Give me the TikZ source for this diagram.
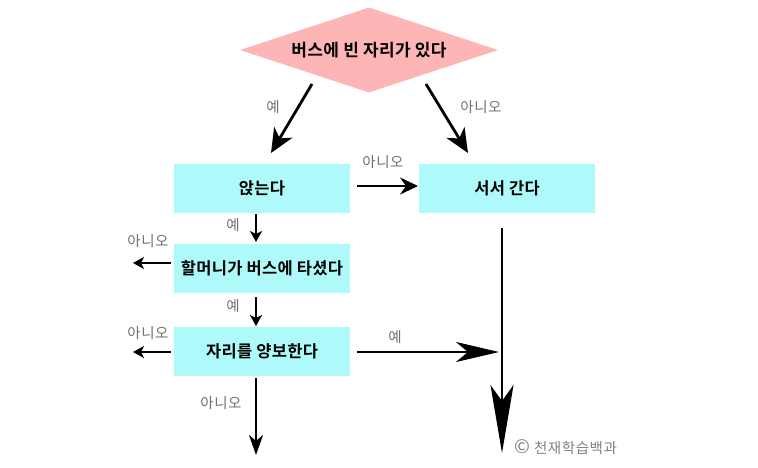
\documentclass[tikz,border=0pt]{standalone}
\usepackage{fontspec}
\setmainfont{Noto Sans CJK KR}
\newfontfamily\krb{Noto Sans CJK KR Bold}[LetterSpace=2]
\newfontfamily\krl{Noto Sans CJK KR}[LetterSpace=4]
\usetikzlibrary{arrows.meta,shapes.geometric}
\definecolor{boxc}{HTML}{AEFAFA}
\definecolor{diac}{HTML}{FDB5B5}
\definecolor{labc}{HTML}{707070}
\definecolor{copyc}{HTML}{808080}
\tikzset{
  stepbox/.style={fill=boxc, minimum width=176pt, minimum height=49pt, inner sep=0pt, font=\krb\fontsize{16.5}{18}\selectfont},
  decision/.style={diamond, fill=diac, minimum width=258pt, minimum height=85pt, inner sep=0pt, aspect=3.03, font=\krb\fontsize{17}{18}\selectfont},
  lab/.style={text=labc, font=\krl\fontsize{14.5}{16}\selectfont, inner sep=0pt},
  bigarr/.style={line width=2.8pt, -{Stealth[length=24pt,width=21pt,inset=7pt]}},
  midarr/.style={line width=2.8pt, -{Stealth[length=18pt,width=17pt,inset=6pt]}},
  smallarr/.style={line width=2pt, -{Stealth[length=11pt,width=12pt,inset=3pt]}},
  longarr/.style={line width=2.8pt, -{Stealth[length=68pt,width=23pt,inset=16pt]}},
  wideharr/.style={line width=2.8pt, -{Stealth[length=43pt,width=20pt,inset=12pt]}},
}
\begin{document}
\begin{tikzpicture}[x=1pt,y=-1pt]
\useasboundingbox (0,0) rectangle (758,467);
\node[decision] (bus) at (369,50) {버스에 빈 자리가 있다};
\node[stepbox] (sit) at (262,188.5) {앉는다};
\node[stepbox] (stand) at (507,188.5) {서서 간다};
\node[stepbox] (grand) at (262,268.5) {할머니가 버스에 타셨다};
\node[stepbox] (yield) at (262,351.5) {자리를 양보한다};
% arrow end points
\coordinate (bYs) at (312,84);  \coordinate (bYe) at (271,153);
\coordinate (bNs) at (426,84);  \coordinate (bNe) at (468,153);
\coordinate (sR) at (357,186);  \coordinate (stL) at (418,186);
\coordinate (sD) at (256,214);  \coordinate (gU) at (256,242);
\coordinate (gLs) at (171,263); \coordinate (gL) at (133,263);
\coordinate (gD) at (256,297);  \coordinate (yU) at (256,326);
\coordinate (yLs) at (171,352); \coordinate (yL) at (133,352);
\coordinate (yRs) at (357,352); \coordinate (yR) at (499,352);
\coordinate (sDs) at (502,228); \coordinate (sDe) at (502,453);
\coordinate (yDs) at (256,378); \coordinate (yD) at (256,455);
\draw[bigarr] (bYs) -- (bYe);
\draw[bigarr] (bNs) -- (bNe);
\draw[midarr] (sR) -- (stL);
\draw[smallarr] (sD) -- (gU);
\draw[smallarr] (gLs) -- (gL);
\draw[smallarr] (gD) -- (yU);
\draw[smallarr] (yLs) -- (yL);
\draw[wideharr] (yRs) -- (yR);
\draw[longarr] (sDs) -- (sDe);
\draw[line width=2.4pt, -{Stealth[length=20pt,width=14pt,inset=6pt]}] (yDs) -- (yD);
\node[lab] (l1) at (273,107) {예};
\node[lab] (l2) at (481,107) {아니오};
\node[lab] (l3) at (383,162) {아니오};
\node[lab] (l4) at (233,225) {예};
\node[lab] (l5) at (148,241) {아니오};
\node[lab] (l6) at (233,306) {예};
\node[lab] (l7) at (148,333) {아니오};
\node[lab] (l8) at (395,337) {예};
\node[lab] (l9) at (221,403) {아니오};
\node[lab, anchor=west, text=copyc] (copy) at (514,447) {{\fontsize{19}{16}\selectfont ©}\hspace{4pt}천재학습백과};
\end{tikzpicture}
\end{document}
